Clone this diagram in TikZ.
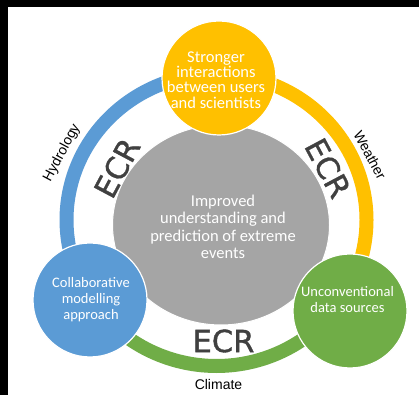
\documentclass[tikz,border=0pt]{standalone}
\usepackage{fontspec}
\usetikzlibrary{shapes.geometric}
\setmainfont{Carlito}
\newfontfamily\arialfont{Liberation Sans}
\newfontfamily\ecrfont{DejaVu Sans}[FakeBold=1.2]
\definecolor{cblue}{HTML}{5B9BD5}
\definecolor{cyel}{HTML}{FFC000}
\definecolor{cgreen}{HTML}{70AD47}
\definecolor{cgray}{HTML}{A5A5A5}
\definecolor{cdark}{HTML}{404040}
\begin{document}
\begin{tikzpicture}[x=1pt,y=1pt,
  ringarc/.style={line width=14pt},
  bubble/.style={circle, minimum size=114pt, inner sep=0pt, draw=white, line width=1.2pt},
  btext/.style={text=white, align=center, inner sep=0pt, font=\fontsize{14.5}{16}\selectfont},
  ecr/.style={text=cdark, inner sep=0pt, font=\ecrfont\fontsize{30.5}{30.5}\selectfont},
  field/.style={font=\arialfont\fontsize{14}{15}\selectfont, text=black, inner sep=0pt}
]
\useasboundingbox (0,0) rectangle (419,395);
\fill[white] (0,0) rectangle (419,395);
\fill[black] (0,388) rectangle (419,395);
\fill[black] (0,0) rectangle (8,395);
\coordinate (rc) at (216.5,175);
% ring arcs
\draw[ringarc, cblue] ([shift={(90:150 and 146)}]rc) arc[start angle=90, end angle=212, x radius=150, y radius=146];
\draw[ringarc, cyel] ([shift={(90:150 and 146)}]rc) arc[start angle=90, end angle=-36, x radius=150, y radius=146];
\draw[ringarc, cgreen] ([shift={(212:150 and 146)}]rc) arc[start angle=212, end angle=326, x radius=150, y radius=146];
% centre
\node[ellipse, fill=cgray, draw=white, line width=1pt, minimum width=217pt, minimum height=200pt, inner sep=0pt] (core) at (221,170) {};
\node[btext, font=\fontsize{16.5}{17.5}\selectfont] (coretext) at (223,168) {Improved\\understanding and\\prediction of extreme\\events};
% bubbles
\node[bubble, fill=cyel] (users) at (219,317) {};
\node[btext, font=\fontsize{16.5}{15.3}\selectfont] (userstext) at (216,315) {Stronger\\interactions\\between users\\and scientists};
\node[bubble, fill=cblue] (model) at (90,95) {};
\node[btext] (modeltext) at (91,95) {Collaborative\\modelling\\approach};
\node[bubble, fill=cgreen] (data) at (350,84) {};
\node[btext] (datatext) at (347.5,95) {Unconventional\\data sources};
% ECR labels
\node[ecr, rotate=62] (ecrl) at (117,227) {ECR};
\node[ecr, rotate=-62] (ecrr) at (328,227) {ECR};
\node[ecr] (ecrb) at (223.5,54) {ECR};
% field labels
\node[field, rotate=62] (hydro) at (62,242) {Hydrology};
\node[field, rotate=-62] (weather) at (370,240) {Weather};
\node[field] (climate) at (218.5,11) {Climate};
\end{tikzpicture}
\end{document}
